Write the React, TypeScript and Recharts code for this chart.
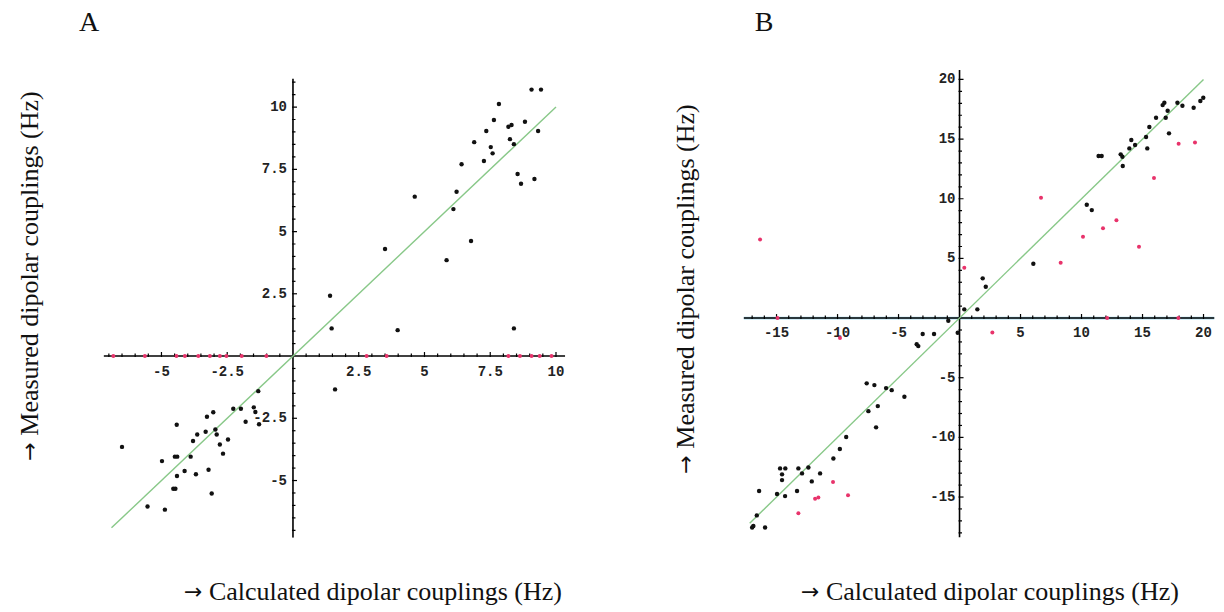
import React from 'react';
import { ScatterChart, Scatter, XAxis, YAxis } from 'recharts';

// ---------- Panel A data ----------
const aMeasured = [
  { x: 9.07, y: 10.7 }, { x: 9.43, y: 10.7 }, { x: 7.83, y: 10.12 }, { x: 7.64, y: 9.48 },
  { x: 8.19, y: 9.21 }, { x: 8.31, y: 9.28 }, { x: 8.82, y: 9.41 }, { x: 7.35, y: 9.04 },
  { x: 9.32, y: 9.04 }, { x: 6.89, y: 8.59 }, { x: 7.52, y: 8.39 }, { x: 8.25, y: 8.71 },
  { x: 8.4, y: 8.51 }, { x: 7.59, y: 8.14 }, { x: 7.26, y: 7.83 }, { x: 6.41, y: 7.7 },
  { x: 8.54, y: 7.31 }, { x: 8.67, y: 6.92 }, { x: 9.18, y: 7.11 }, { x: 6.22, y: 6.6 },
  { x: 6.1, y: 5.9 }, { x: 6.77, y: 4.62 }, { x: 5.84, y: 3.85 }, { x: 4.63, y: 6.4 },
  { x: 3.5, y: 4.3 }, { x: 1.41, y: 2.42 }, { x: 1.47, y: 1.11 }, { x: 3.98, y: 1.04 },
  { x: 8.4, y: 1.11 }, { x: 1.6, y: -1.34 },
  { x: -1.32, y: -1.41 }, { x: -2.27, y: -2.12 }, { x: -1.98, y: -2.12 }, { x: -1.49, y: -2.06 },
  { x: -1.43, y: -2.25 }, { x: -1.8, y: -2.64 }, { x: -1.29, y: -2.74 }, { x: -3.27, y: -2.44 },
  { x: -3.03, y: -2.26 }, { x: -4.42, y: -2.76 }, { x: -2.95, y: -2.95 }, { x: -3.32, y: -3.04 },
  { x: -3.64, y: -3.15 }, { x: -2.9, y: -3.15 }, { x: -3.8, y: -3.41 }, { x: -2.47, y: -3.35 },
  { x: -2.78, y: -3.55 }, { x: -2.66, y: -3.92 }, { x: -6.5, y: -3.65 }, { x: -4.49, y: -4.04 },
  { x: -4.4, y: -4.04 }, { x: -3.89, y: -4.04 }, { x: -4.98, y: -4.22 }, { x: -4.12, y: -4.62 },
  { x: -3.21, y: -4.57 }, { x: -3.69, y: -4.75 }, { x: -4.41, y: -4.82 }, { x: -4.55, y: -5.33 },
  { x: -4.47, y: -5.33 }, { x: -3.09, y: -5.52 }, { x: -5.53, y: -6.04 }, { x: -4.87, y: -6.17 },
];
const aZero = [
  { x: -6.83, y: 0 }, { x: -5.63, y: 0 }, { x: -4.43, y: 0 }, { x: -4.11, y: 0 }, { x: -3.6, y: 0 },
  { x: -3.16, y: 0 }, { x: -2.78, y: 0 }, { x: -2.53, y: 0 }, { x: -1.95, y: 0 }, { x: -1.01, y: 0 },
  { x: 2.8, y: 0 }, { x: 3.56, y: 0 }, { x: 8.19, y: 0 }, { x: 8.63, y: 0 }, { x: 9.07, y: 0 },
  { x: 9.38, y: 0 }, { x: 9.83, y: 0 },
];
const aFit = [{ x: -6.9, y: -6.9 }, { x: 10, y: 10 }];
const aXDomain = [-7.2, 10.35];
const aYDomain = [-7.3, 11.15];
const aXLabels = [-5, -2.5, 2.5, 5, 7.5, 10];
const aYLabels = [-5, -2.5, 2.5, 5, 7.5, 10];
const aMinorStep = 0.5;

// ---------- Panel B data ----------
const bBlack = [
  { x: 19.98, y: 18.47 }, { x: 19.74, y: 18.19 }, { x: 19.19, y: 17.63 }, { x: 17.86, y: 18.05 },
  { x: 18.27, y: 17.8 }, { x: 16.79, y: 18.05 }, { x: 16.65, y: 17.85 }, { x: 17.06, y: 17.38 },
  { x: 16.11, y: 16.79 }, { x: 16.9, y: 16.79 }, { x: 15.56, y: 16.01 }, { x: 17.17, y: 15.48 },
  { x: 15.29, y: 15.17 }, { x: 14.08, y: 14.92 }, { x: 14.39, y: 14.5 }, { x: 13.92, y: 14.22 },
  { x: 15.39, y: 14.22 }, { x: 11.4, y: 13.58 }, { x: 11.65, y: 13.58 }, { x: 13.21, y: 13.72 },
  { x: 13.35, y: 13.52 }, { x: 13.38, y: 12.74 }, { x: 10.43, y: 9.5 }, { x: 10.84, y: 9.05 },
  { x: 6.05, y: 4.55 }, { x: 1.9, y: 3.33 }, { x: 2.15, y: 2.63 }, { x: 0.39, y: 0.73 },
  { x: 1.46, y: 0.73 }, { x: -0.92, y: -0.22 }, { x: -0.15, y: -1.23 }, { x: -2.09, y: -1.34 },
  { x: -3.02, y: -1.34 }, { x: -3.51, y: -2.2 }, { x: -3.38, y: -2.35 }, { x: -7.61, y: -5.47 },
  { x: -6.98, y: -5.62 }, { x: -6.02, y: -5.87 }, { x: -5.56, y: -6.04 }, { x: -4.52, y: -6.6 },
  { x: -7.47, y: -7.8 }, { x: -6.7, y: -7.38 }, { x: -6.84, y: -9.16 }, { x: -9.29, y: -9.97 },
  { x: -9.81, y: -10.98 }, { x: -10.34, y: -11.77 }, { x: -14.71, y: -12.6 }, { x: -14.28, y: -12.6 },
  { x: -13.21, y: -12.6 }, { x: -12.39, y: -12.52 }, { x: -14.55, y: -13.1 }, { x: -12.91, y: -13.02 },
  { x: -14.55, y: -13.58 }, { x: -11.43, y: -13.02 }, { x: -12.11, y: -13.69 }, { x: -16.43, y: -14.5 },
  { x: -14.96, y: -14.75 }, { x: -14.3, y: -14.92 }, { x: -13.32, y: -14.5 }, { x: -16.62, y: -16.54 },
  { x: -16.9, y: -17.43 }, { x: -17.0, y: -17.55 }, { x: -15.94, y: -17.55 },
];
const bRed = [
  { x: 17.96, y: 14.61 }, { x: 19.3, y: 14.72 }, { x: 15.94, y: 11.73 }, { x: 12.86, y: 8.19 },
  { x: 11.76, y: 7.52 }, { x: 10.12, y: 6.82 }, { x: 14.71, y: 5.98 }, { x: 8.29, y: 4.64 },
  { x: 6.68, y: 10.09 }, { x: -16.35, y: 6.59 }, { x: 0.39, y: 4.22 }, { x: 12.1, y: 0 },
  { x: 17.94, y: 0 }, { x: -14.92, y: 0 }, { x: 2.69, y: -1.2 }, { x: -9.8, y: -1.68 },
  { x: -10.37, y: -13.75 }, { x: -9.14, y: -14.86 }, { x: -11.84, y: -15.15 }, { x: -11.57, y: -15.03 },
  { x: -13.21, y: -16.35 },
];
const bFit = [{ x: -17.2, y: -17.2 }, { x: 20, y: 20 }];
const bXDomain = [-17.7, 20.9];
const bYDomain = [-18.4, 20.8];
const bXLabels = [-15, -10, -5, 5, 10, 15, 20];
const bYLabels = [-15, -10, -5, 5, 10, 15, 20];
const bMinorStep = 1;

// ---------- styles ----------
const BLACK = '#111111';
const RED = '#e8336b';
const GREEN = '#88c888';
const TICK_FONT = '"Liberation Mono", "DejaVu Sans Mono", monospace';
const SERIF = '"Liberation Serif", "Times New Roman", serif';
const ARROW_FONT = '"DejaVu Sans", sans-serif';

function minorTicks(domain: number[], step: number) {
  const out: number[] = [];
  const start = Math.ceil(domain[0] / step) * step;
  for (let v = start; v <= domain[1] + 1e-9; v += step) {
    const r = Math.round(v * 100) / 100;
    if (Math.abs(r) > 1e-9) out.push(r);
  }
  return out;
}

const fmt = (v: number) => String(v);

function makeXTicks(domain: number[], step: number, labels: number[]) {
  return minorTicks(domain, step).map((v) => ({
    x: v,
    y: 0,
    major: labels.some((l) => Math.abs(l - v) < 1e-6),
  }));
}
function makeYTicks(domain: number[], step: number, labels: number[]) {
  return minorTicks(domain, step).map((v) => ({
    x: 0,
    y: v,
    major: labels.some((l) => Math.abs(l - v) < 1e-6),
  }));
}

const XTickShape = (gap: number) => (props: any) => {
  const { cx, cy, payload } = props;
  const major = payload.major;
  return (
    <g>
      <line x1={cx} x2={cx} y1={cy - (major ? 4 : 2.5)} y2={cy + 1} stroke="#000" strokeWidth={1.2} />
      {major && (
        <text x={cx} y={cy + gap} textAnchor="middle" dominantBaseline="central"
          fontFamily={TICK_FONT} fontWeight="bold" fontSize={14} fill="#222">
          {fmt(payload.x)}
        </text>
      )}
    </g>
  );
};
const YTickShape = (gap: number) => (props: any) => {
  const { cx, cy, payload } = props;
  const major = payload.major;
  return (
    <g>
      <line x1={cx - 1} x2={cx + (major ? 4 : 2.5)} y1={cy} y2={cy} stroke="#000" strokeWidth={1.2} />
      {major && (
        <text x={cx - gap} y={cy} textAnchor="end" dominantBaseline="central"
          fontFamily={TICK_FONT} fontWeight="bold" fontSize={14} fill="#222">
          {fmt(payload.y)}
        </text>
      )}
    </g>
  );
};

const Dot = (color: string, r: number) => (props: any) => {
  const { cx, cy } = props;
  return <circle cx={cx} cy={cy} r={r} fill={color} />;
};
const Nothing = () => <g />;

type PanelProps = {
  width: number;
  height: number;
  margin: { top: number; left: number; right: number; bottom: number };
  xDomain: number[];
  yDomain: number[];
  xLabels: number[];
  yLabels: number[];
  step: number;
  fit: { x: number; y: number }[];
  black: { x: number; y: number }[];
  red: { x: number; y: number }[];
  blueAxis?: boolean;
  xGap: number;
  yGap: number;
};

function Panel(p: PanelProps) {
  const xAxisLine = [{ x: p.xDomain[0], y: 0 }, { x: p.xDomain[1], y: 0 }];
  const yAxisLine = [{ x: 0, y: p.yDomain[0] }, { x: 0, y: p.yDomain[1] }];
  return (
    <ScatterChart width={p.width} height={p.height} margin={p.margin}>
      <XAxis type="number" dataKey="x" domain={p.xDomain} allowDataOverflow hide />
      <YAxis type="number" dataKey="y" domain={p.yDomain} allowDataOverflow hide />
      {p.blueAxis && (
        <Scatter data={xAxisLine} line={{ stroke: '#a8dcef', strokeWidth: 2.8 }} shape={Nothing} isAnimationActive={false} />
      )}
      <Scatter data={xAxisLine} line={{ stroke: '#000', strokeWidth: 1.6 }} shape={Nothing} isAnimationActive={false} />
      <Scatter data={yAxisLine} line={{ stroke: '#000', strokeWidth: 1.6 }} shape={Nothing} isAnimationActive={false} />
      <Scatter data={makeXTicks(p.xDomain, p.step, p.xLabels)} shape={XTickShape(p.xGap)} isAnimationActive={false} />
      <Scatter data={makeYTicks(p.yDomain, p.step, p.yLabels)} shape={YTickShape(p.yGap)} isAnimationActive={false} />
      <Scatter data={p.fit} line={{ stroke: GREEN, strokeWidth: 1.4 }} shape={Nothing} isAnimationActive={false} />
      <Scatter data={p.red} shape={Dot(RED, 2)} isAnimationActive={false} />
      <Scatter data={p.black} shape={Dot(BLACK, 2.2)} isAnimationActive={false} />
    </ScatterChart>
  );
}

const Arrow = () => <tspan fontFamily={ARROW_FONT} fontSize={22}>→</tspan>;

export default function App() {
  return (
    <div style={{ position: 'absolute', left: 0, top: 0, width: 1224, height: 612, background: '#fff' }}>
      <div style={{ position: 'absolute', left: 0, top: 0 }}>
        <Panel
          width={620}
          height={612}
          margin={{ top: 78.4, left: 103.6, right: 54.8, bottom: 74.2 }}
          xDomain={aXDomain}
          yDomain={aYDomain}
          xLabels={aXLabels}
          yLabels={aYLabels}
          step={aMinorStep}
          fit={aFit}
          black={aMeasured}
          red={aZero}
          xGap={16}
          yGap={6}
        />
      </div>
      <div style={{ position: 'absolute', left: 620, top: 0 }}>
        <Panel
          width={604}
          height={612}
          margin={{ top: 69.9, left: 123.6, right: 9.5, bottom: 74.4 }}
          xDomain={bXDomain}
          yDomain={bYDomain}
          xLabels={bXLabels}
          yLabels={bYLabels}
          step={bMinorStep}
          fit={bFit}
          black={bBlack}
          red={bRed}
          blueAxis
          xGap={15}
          yGap={4}
        />
      </div>
      <svg width={1224} height={612} style={{ position: 'absolute', left: 0, top: 0, pointerEvents: 'none' }}>
        <text x={89} y={31} textAnchor="middle" fontFamily={SERIF} fontSize={28} fill="#111">A</text>
        <text x={764} y={31} textAnchor="middle" fontFamily={SERIF} fontSize={28} fill="#111">B</text>
        <text x={29} y={276} transform="rotate(-90 29 276)" textAnchor="middle" dominantBaseline="central"
          fontFamily={SERIF} fontSize={26} fill="#111"><Arrow /> Measured dipolar couplings (Hz)</text>
        <text x={685} y={289} transform="rotate(-90 685 289)" textAnchor="middle" dominantBaseline="central"
          fontFamily={SERIF} fontSize={26} fill="#111"><Arrow /> Measured dipolar couplings (Hz)</text>
        <text x={373} y={591} textAnchor="middle" dominantBaseline="central"
          fontFamily={SERIF} fontSize={26} fill="#111"><Arrow /> Calculated dipolar couplings (Hz)</text>
        <text x={990} y={591} textAnchor="middle" dominantBaseline="central"
          fontFamily={SERIF} fontSize={26} fill="#111"><Arrow /> Calculated dipolar couplings (Hz)</text>
      </svg>
    </div>
  );
}
